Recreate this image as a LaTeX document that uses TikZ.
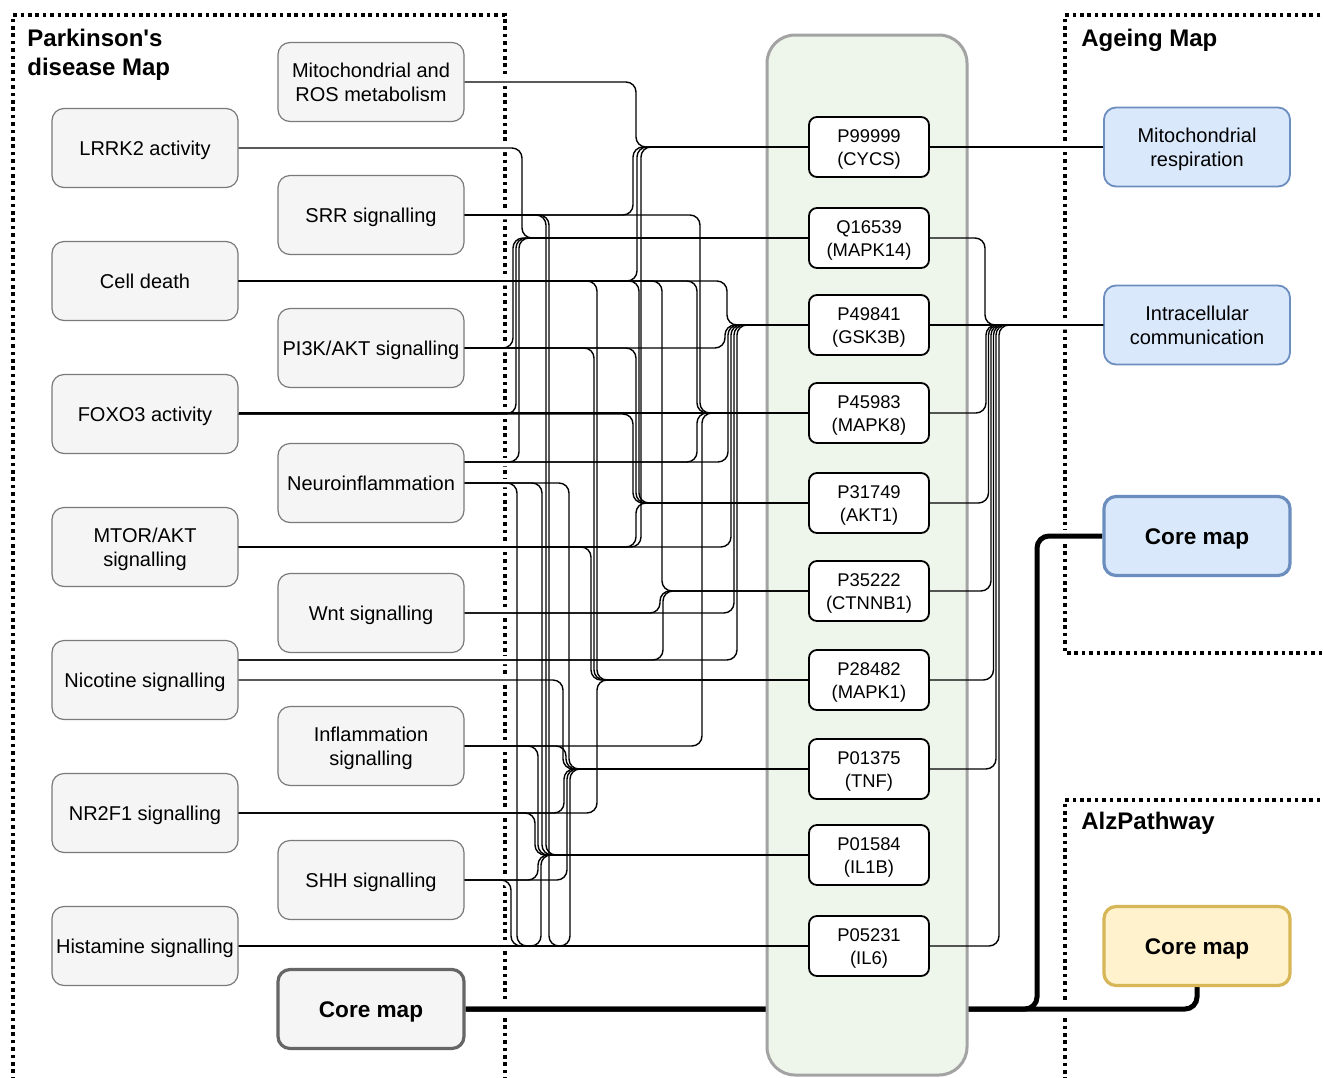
\documentclass[tikz,border=0pt]{standalone}
\usepackage{fontspec}
\setmainfont{Liberation Sans}
\pgfdeclarelayer{back}
\pgfdeclarelayer{mid}
\pgfsetlayers{back,mid,main}
\definecolor{boxfill}{HTML}{F5F5F5}
\definecolor{boxline}{HTML}{7A7A7A}
\definecolor{coreline}{HTML}{666666}
\definecolor{colfill}{HTML}{EEF5EB}
\definecolor{colline}{HTML}{A3A3A3}
\definecolor{bluefill}{HTML}{DAE8FC}
\definecolor{blueline}{HTML}{6C8EBF}
\definecolor{yelfill}{HTML}{FFF2CC}
\definecolor{yelline}{HTML}{D6B656}
\newcommand\topstrut{\rule{0pt}{0.93em}}
\newcommand\botstrut{\rule[-0.21em]{0pt}{0.21em}}
\newcommand\one[1]{\topstrut#1\botstrut}
\newcommand\two[2]{\topstrut#1\\#2\botstrut}
\tikzset{
 gbox/.style={draw=boxline, fill=boxfill, line width=0.6pt, rounded corners=6pt, minimum width=93pt, minimum height=39.5pt, inner sep=1pt, align=center, font=\fontsize{10}{12}\selectfont},
 pdcorebox/.style={gbox, draw=coreline, line width=1.6pt, font=\bfseries\fontsize{11.3}{13}\selectfont},
 bluebox/.style={gbox, draw=blueline, fill=bluefill, line width=0.9pt},
 agcorebox/.style={bluebox, line width=1.6pt, font=\bfseries\fontsize{11.3}{13}\selectfont},
 alzcorebox/.style={gbox, draw=yelline, fill=yelfill, line width=1.6pt, font=\bfseries\fontsize{11.3}{13}\selectfont},
 pbox/.style={draw=black, fill=white, line width=0.9pt, rounded corners=4pt, minimum width=60pt, minimum height=30pt, inner sep=1pt, align=center, font=\fontsize{9.2}{11.5}\selectfont},
 lnkline/.style={draw=black, line width=0.7pt, rounded corners=5pt},
 halo/.style={draw=white, line width=4pt, rounded corners=5pt},
 dotframe/.style={draw=black, line width=1.6pt, dash pattern=on 1.8pt off 1.9pt},
 ttl/.style={font=\bfseries\fontsize{12}{14.5}\selectfont, align=left, inner sep=0pt, anchor=north west},
 thickline/.style={draw=black, line width=2.5pt, rounded corners=6pt},
 curedge/.style={lnkline},
 curcore/.style={thickline},
}
\newcommand\lnk[4]{\draw[curedge] (#1.east |- 0,#2) -- (#3,#2) -- (#3,0 |- #4.west) -- (#4.west);}
\newcommand\rlnk[3]{\draw[curedge] (#1.east) -- (#2,0 |- #1.east) -- (#2,0 |- #3.west) -- (#3.west);}
\newcommand\dlnk[2]{\draw[curedge] (#1.east |- #2.west) -- (#2.west);}
\newcommand\alledges{%
 \lnk{mito}{82}{636}{cycs}
 \lnk{srr}{215}{633}{cycs}
 \lnk{cd}{281}{637}{cycs}
 \lnk{mtor}{547}{641}{cycs}
 \lnk{lrrk}{148}{522}{mapk14}
 \lnk{pi3k}{348}{513}{mapk14}
 \lnk{foxo}{414}{516}{mapk14}
 \lnk{neuro}{462}{519}{mapk14}
 \lnk{cd}{281}{727}{gsk3b}
 \lnk{pi3k}{348}{725}{gsk3b}
 \lnk{neuro}{462}{728}{gsk3b}
 \lnk{mtor}{547}{731}{gsk3b}
 \lnk{wnt}{613}{734}{gsk3b}
 \lnk{nic}{660}{737}{gsk3b}
 \dlnk{foxo}{mapk8}
 \lnk{srr}{215}{700}{mapk8}
 \lnk{cd}{281}{697}{mapk8}
 \lnk{neuro}{462}{697}{mapk8}
 \lnk{infl}{746}{702}{mapk8}
 \lnk{foxo}{414}{633}{akt1}
 \lnk{pi3k}{348}{636}{akt1}
 \lnk{cd}{281}{639}{akt1}
 \lnk{mtor}{547}{636}{akt1}
 \lnk{cd}{281}{662}{ctnnb1}
 \lnk{wnt}{613}{660}{ctnnb1}
 \lnk{nic}{660}{663}{ctnnb1}
 \lnk{cd}{281}{597}{mapk1}
 \lnk{pi3k}{348}{594}{mapk1}
 \lnk{mtor}{547}{591}{mapk1}
 \lnk{nr2}{813}{597}{mapk1}
 \lnk{nic}{680}{563}{tnf}
 \lnk{infl}{746}{566}{tnf}
 \lnk{neuro}{483}{569}{tnf}
 \lnk{nr2}{813}{564}{tnf}
 \lnk{shh}{880}{567}{tnf}
 \lnk{his}{946}{570}{tnf}
 \lnk{srr}{215}{546}{il1b}
 \lnk{neuro}{483}{542}{il1b}
 \lnk{infl}{746}{538}{il1b}
 \lnk{nr2}{813}{535}{il1b}
 \lnk{shh}{880}{538}{il1b}
 \lnk{his}{946}{541}{il1b}
 \dlnk{his}{il6}
 \lnk{neuro}{483}{517}{il6}
 \lnk{shh}{880}{511}{il6}
 \lnk{srr}{215}{549}{il6}
 \draw[curedge] (cycs.east) -- (mresp.west);
 \rlnk{mapk14}{985}{icomm}
 \draw[curedge] (gsk3b.east) -- (icomm.west);
 \rlnk{mapk8}{986}{icomm}
 \rlnk{akt1}{988.5}{icomm}
 \rlnk{ctnnb1}{991}{icomm}
 \rlnk{mapk1}{993.5}{icomm}
 \rlnk{tnf}{996}{icomm}
 \rlnk{il6}{999}{icomm}
}
\newcommand\corepaths{%
 \draw[curcore] (pdcore.east) -- (1037,0 |- pdcore.east) -- (1037,0 |- agcore.west) -- (agcore.west);
 \draw[curcore] (pdcore.east) -| (alzcore.south);
}
\begin{document}
\begin{tikzpicture}[x=0.5pt,y=-0.5pt]
\useasboundingbox (0,0) rectangle (1323,1077);
% left column
\node[gbox] (lrrk) at (145,148) {\one{LRRK2 activity}};
\node[gbox] (cd) at (145,281) {\one{Cell death}};
\node[gbox] (foxo) at (145,414) {\one{FOXO3 activity}};
\node[gbox] (mtor) at (145,547) {\two{MTOR/AKT}{signalling}};
\node[gbox] (nic) at (145,680) {\one{Nicotine signalling}};
\node[gbox] (nr2) at (145,813) {\one{NR2F1 signalling}};
\node[gbox] (his) at (145,946) {\one{Histamine signalling}};
% second column
\node[gbox] (mito) at (371,82) {\two{Mitochondrial and}{ROS metabolism}};
\node[gbox] (srr) at (371,215) {\one{SRR signalling}};
\node[gbox] (pi3k) at (371,348) {\one{PI3K/AKT signalling}};
\node[gbox] (neuro) at (371,483) {\one{Neuroinflammation}};
\node[gbox] (wnt) at (371,613) {\one{Wnt signalling}};
\node[gbox] (infl) at (371,746) {\two{Inflammation}{signalling}};
\node[gbox] (shh) at (371,880) {\one{SHH signalling}};
\node[pdcorebox] (pdcore) at (371,1009) {\one{Core map}};
% proteins
\node[pbox] (cycs) at (869,147) {\two{P99999}{(CYCS)}};
\node[pbox] (mapk14) at (869,238) {\two{Q16539}{(MAPK14)}};
\node[pbox] (gsk3b) at (869,325) {\two{P49841}{(GSK3B)}};
\node[pbox] (mapk8) at (869,413) {\two{P45983}{(MAPK8)}};
\node[pbox] (akt1) at (869,503) {\two{P31749}{(AKT1)}};
\node[pbox] (ctnnb1) at (869,591) {\two{P35222}{(CTNNB1)}};
\node[pbox] (mapk1) at (869,680) {\two{P28482}{(MAPK1)}};
\node[pbox] (tnf) at (869,769) {\two{P01375}{(TNF)}};
\node[pbox] (il1b) at (869,855) {\two{P01584}{(IL1B)}};
\node[pbox] (il6) at (869,946) {\two{P05231}{(IL6)}};
% right
\node[bluebox] (mresp) at (1197,147) {\two{Mitochondrial}{respiration}};
\node[bluebox] (icomm) at (1197,325) {\two{Intracellular}{communication}};
\node[agcorebox] (agcore) at (1197,536) {\one{Core map}};
\node[alzcorebox] (alzcore) at (1197,946) {\one{Core map}};
% titles
\node[ttl] (pdtitle) at (27,29) {Parkinson\textquotesingle s\\disease Map};
\node[ttl] (agtitle) at (1081,29) {Ageing Map};
\node[ttl] (alztitle) at (1081,812) {AlzPathway};
% middle layer: column
\begin{pgfonlayer}{mid}
\node[draw=colline, fill=colfill, line width=1.5pt, rounded corners=14pt, minimum width=100pt, minimum height=520pt, inner sep=0pt] (col) at (867,555) {};
\end{pgfonlayer}
% back layer
\begin{pgfonlayer}{back}
\fill[white] (0,0) rectangle (1323,1077);
\draw[dotframe] (13,1110) -- (13,15) -- (505,15) -- (505,1110);
\draw[dotframe] (1350,15) -- (1065,15) -- (1065,653) -- (1350,653);
\draw[dotframe] (1350,800) -- (1065,800) -- (1065,1110);
\begin{scope}
 \clip (498,0) rectangle (512,1077) (1058,0) rectangle (1072,1077);
 \tikzset{curedge/.style={halo}, curcore/.style={draw=white, line width=6pt, rounded corners=6pt}}
 \alledges
 \corepaths
\end{scope}
\corepaths
\end{pgfonlayer}
\alledges
\end{tikzpicture}
\end{document}
